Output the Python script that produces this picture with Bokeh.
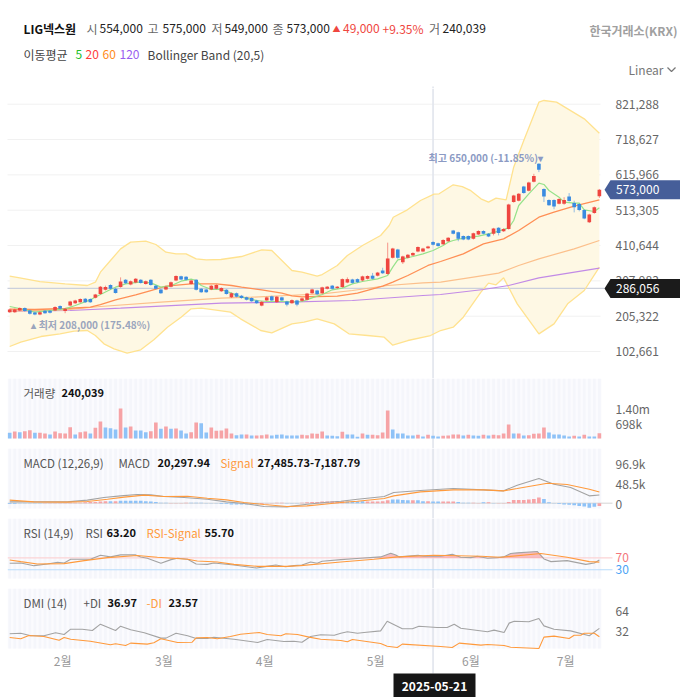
from bokeh.plotting import figure
from bokeh.layouts import column
from bokeh.core.properties import value
from bokeh.models import Range1d, FixedTicker, Label, LinearAxis, NumeralTickFormatter, ColumnDataSource
from bokeh.embed import file_html
from bokeh.resources import INLINE

# ---------- data (thousand won unless noted) ----------
OPEN = [217,217,222,229,222,216,210,221,221,222,235,220,236,243,246,256,255,259,270,282,296,285,290,311,297,303,311,299,311,294,
        283,283,291,309,321,320,299,311,285,283,283,285,278,282,260,272,265,260,258,251,236,251,263,246,260,248,243,251,250,253,
        272,280,272,285,294,287,290,303,312,313,309,314,323,323,338,328,375,399,362,375,382,393,393,403,421,417,414,423,454,449,
        438,438,430,443,453,445,445,462,452,459,537,541,582,570,596,648,575,543,543,532,532,553,534,531,514,478,505,554]
CLOSE = [225,225,229,220,212,210,217,214,215,232,227,227,248,251,255,246,246,268,291,290,285,273,306,301,307,314,302,307,296,285,
         272,291,304,322,312,311,309,282,275,275,294,296,287,270,272,262,258,253,249,243,247,260,251,262,251,239,252,239,257,271,
         283,269,289,291,285,291,313,313,302,304,321,322,314,332,330,373,402,375,379,384,389,406,402,408,413,409,427,433,445,430,
         428,428,446,453,445,437,460,447,459,530,556,561,563,594,613,631,553,528,524,546,543,540,522,514,489,501,522,573]
HIGH = [227,227,231,231,224,218,219,223,223,234,237,229,250,253,257,258,257,270,293,294,298,287,318,313,309,316,313,309,313,296,
        285,293,306,324,323,322,311,313,287,285,296,298,289,284,274,274,267,262,260,253,249,262,265,264,262,250,254,253,259,273,
        285,282,291,293,296,293,315,318,314,315,323,324,331,334,346,419,404,401,381,386,391,408,404,410,423,419,429,435,456,451,
        440,440,448,455,455,447,462,464,461,532,558,563,584,596,619,650,577,545,545,548,551,563,541,533,516,503,524,575]
LOW = [215,215,220,218,210,208,208,212,213,220,225,214,234,241,244,244,244,257,268,280,283,271,288,299,295,301,300,297,294,283,
       270,281,289,307,310,309,297,280,273,273,281,283,276,268,258,260,256,251,247,241,234,249,249,244,249,234,241,234,248,251,
       270,267,270,283,283,285,288,301,300,302,307,312,312,321,328,326,373,372,357,373,380,391,391,401,411,407,412,421,443,423,
       426,426,428,441,443,435,440,440,450,457,535,539,561,568,594,624,537,526,516,530,529,538,507,510,487,476,503,549]

VOLUME = [264,326,295,341,388,264,264,233,186,326,248,233,527,186,295,326,233,496,791,512,481,419,1395,512,558,372,372,295,341,744,
          450,558,450,465,372,233,295,744,713,279,512,357,372,465,233,155,186,186,140,140,155,186,140,171,186,140,140,140,171,155,
          233,217,326,140,124,109,310,186,186,78,233,171,171,155,279,1302,419,233,233,140,140,171,93,171,124,93,124,140,186,186,
          140,171,140,124,171,140,171,155,233,651,233,233,140,155,217,233,512,279,186,186,140,93,124,93,171,93,93,240]
VOL_DIR = list("brbrrbrrbr" "rrrbrrbrrb" "bbrbrbbbrr" "brbrbbrrbb" "rrrrrbbrbr" "rrbbbbbbrr"
               "rrrbbbrbbb" "rbrrrrbbbb" "brbrbbrrrr" "brbbrbrrrr" "brbrrrrbbb" "bbrbrbbr")

MA5_X = [0,2,5,8,11,13,16,18,20,21,23,26,28,30,32,34,36,37,38,40,42,44,46,49,51,54,56,58,60,62,64,66,68,70,73,75,76,77,78,80,82,84,86,87,88,90,93,95,97,99,100,101,103,105,106,107,109,110,112,113,114,116,117]
MA5 = [233.4,227.6,217,221.8,226.6,236.3,252.8,268.3,282.8,289.6,299.3,305.1,302.2,289.6,293.5,307,312.9,309,294.5,282.8,282.8,272.2,260.5,250.9,248,248,247,248,258.6,268.3,281.9,286.7,299.3,306,313.8,323.5,347.7,369,372,378.7,386.5,396.2,410.7,420.4,425.2,432,437.8,444.6,452.3,462,483.3,526.9,560.8,591.8,588,570.5,551.1,536.6,533.7,533.7,514.3,509.5,520.1]
MA20_X = [0,5,11,16,18,21,25,28,31,36,41,44,46,50,54,56,58,61,65,69,74,76,79,83,85.5,90,94,98,101,105,108,112,117]
MA20 = [225.7,224.7,227.6,231.5,239.2,252.8,267.3,279.9,292.5,299.3,299.3,294.5,289.6,281.9,272.2,264.4,261.5,262.5,263.4,272.2,292.5,304.1,323.5,352.6,364.2,386.5,415.5,430,454.3,493,507.5,525,543.4]
MA60_X = [0,11,18,30,42,48,55,62,68,75,82,85.5,92,97,101,105,112,117]
MA60 = [219.9,223.7,233.4,246,257.6,260.5,265.4,270.2,279.9,294.5,302.2,304,318.7,330.3,352.6,371.9,401,425.2]
MA120_X = [0,12,22,42,55,68,82,85.5,94,99,105,117]
MA120 = [219.9,221.8,228.6,243.1,246,250.9,265.4,268.3,282.8,294.4,316.7,344.8]
BB_UP_X = [0,2,6,11,15.4,17,18,20,22,24,27,29,31,33,35,37,39,41.9,46,50,52,56,58,61,62,65,67,70,73.6,75.3,76.1,78.9,81.5,84.2,85.2,88,89.8,91.5,93.5,95,96.5,98.5,100,102,105,106,108.5,114,117]
BB_UP = [321.6,316.7,306,299.3,294.5,304.1,333.2,367.1,401,420.4,423.3,413.6,391.3,386.5,386.5,372,369,370,378.7,398.1,396.2,338,333.2,321.6,326.4,352.6,381.6,410.7,439.8,468.8,492.9,514.4,541.5,559.8,560.9,587.1,582,570,546.3,536.6,548.2,543.4,638.3,715.8,827.2,832.1,827.2,778.8,737.1]
BB_LO_X = [0,2.2,6.2,10,12.8,15.4,17,18.7,20.7,23.3,26,28.6,31.3,34,36,38,40.6,43.8,45.8,49.8,52,56,58.4,61,64.4,67.3,71,74.3,76,79,83.5,85.5,88,90,93.5,95,96.5,98,100.7,105,108,110.7,114,117]
BB_LO = [117.2,129.8,146.2,154,161.7,163.7,149.1,125,110.4,97.8,107.5,136.6,173.4,202.4,226.6,228.6,223.7,217,197.6,163.7,156.9,183,187.9,197.6,183,154,149.1,144.3,121,134.6,149.1,163.6,173.3,202.4,275,301.2,296.4,316.7,241.1,154,183,241.1,279.9,347.7]

MACD_X = [0,11.4,15.4,18.7,22,25.3,28,30.6,34.6,39.2,43,46.5,50.5,55,59,62.4,65.7,69,74.3,76.2,81.5,88,94,98,100.7,105,108,111.3,115,117]
MACD = [3.3,3.3,7.4,13.9,18,21.3,20.5,16.4,13.9,9.8,3.3,-0.8,-8.2,-9,-2.5,1.6,4.9,9.8,16.4,26.2,31.2,36,32.8,30.3,44.3,60.7,46.7,38.5,18,20.3]
SIGNAL_X = [0,4.8,11.4,15.4,19.4,22.7,26.7,30.6,35.3,39.2,43,46.5,50.5,55,59,62.4,65.7,69,74.3,76.2,81.5,88,94,98,100.7,106.7,110.6,115,117]
SIGNAL = [7.4,3.3,2.5,4.1,9.8,14.8,19.7,16.4,17.2,12.3,8.2,1.6,-3.3,-8.2,-6.6,-2.5,1.6,4.9,11.5,18,27.9,32.8,32.8,30.3,36,49.2,45.9,34.4,27.5]
HIST = [-2,-2,-1,-1,-1,-1,-1,0.5,0.5,0.5,0.5,0.5,1,1,1,2,3,3,4,5,5,5,6,6,6,6,6,5,4,3,1,1,-1,-1,-1,1,1,1,1,-1,
        -1,-1,-2,-2,-3,-3,-3,-3,-3,-3,-2,-1,-1,1,1,-1,-1,-1,1,2,3,3,4,4,5,5,5,4,4,4,5,4,4,4,5,7,9,9,8,7,
        7,7,5,5,4,4,4,4,4,3,1,1,1,-1,2,2,0.5,0.5,0.5,3,8,8,8,9,10,14,10,2,-1,-2,-3,-4,-5,-7,-8,-11,-9,-7.19]
HIST_DIR = list("bbbbbbbrrr" "rrrrrrrrrr" "brbbbbbbbb" "bbrrrrbbbb" "bbbbbbbbbb" "rrrrrbbbrr"
                "rrrrrrrbbb" "brrrrrbbbb" "rbbrbbrrrb" "bbrrbrbrrr" "rrrrrrbbbb" "bbbbbbbr")

RSI_X = [0,2.2,4.8,7.5,9.5,10.8,12.1,16,18,20,22,25,26,27.3,30,32,33.3,35.3,37,39.2,40.5,44.5,49,51,52.8,54.7,56.4,58,59.7,61,62,65.7,69.6,73.6,75.6,76.6,77.3,81,82.2,85.5,87.8,89.5,91.5,92.8,94.8,96.8,98,99.4,100.7,104.7,106,107.4,110.6,114.3,116,117]
RSI = [51.7,52.8,43.7,49.4,55.1,52.8,65.4,65.4,79.1,73.4,80.2,80.2,73.4,68.8,51.7,64.2,68.8,65.4,49.4,48.2,52.8,46,35.7,41.4,46,40.2,43.7,46,56.2,51.7,58.5,64.2,68.8,73.4,86,80.2,73.4,79.1,75.7,75.7,82.5,72.2,71.1,75.7,68.8,71.1,73.4,84.8,87.1,91.7,66.5,57.4,60.8,48.2,52.8,63.2]
RSI_SIG_X = [0,2.2,5.5,10.8,14.8,19.4,25.3,29.3,35.3,37.2,41.2,44.5,49.2,55,57.7,65.7,72.3,77,84.2,93.5,97.4,105.4,110.6,115,117]
RSI_SIG = [63,57.4,49.4,50.5,60.8,71.1,78,72.2,65.4,59.6,56.2,48.2,41.4,41.4,43.7,56.2,65.4,73.4,79.1,75.7,72.2,84.8,72.2,57.4,55.7]
RSI_OVER_X = [70,73.6,75.6,76.6,77.3,81,82.2,85.5,87.8,89.5,91.5,92.8,94.8,96.8,98,99.4,100.7,104.7,106]
RSI_OVER = [70,73.4,86,80.2,73.4,79.1,75.7,75.7,82.5,72.2,71.1,75.7,70,71.1,73.4,84.8,87.1,91.7,70]

PDI_X = [0,2.2,4.2,6.8,9.1,10.8,12.1,14.4,16.4,18,21,22,24,26.7,30,31,33,35.3,37,39.2,40.5,44.5,49.2,51.1,54.4,56.4,58,59.7,61.7,64.4,65.7,67,69,70.3,73.6,74.9,77.9,79.9,81.2,84.8,86.8,88.2,89.5,94.8,96.1,98.1,99.1,100.1,103,105,106,108,111.3,115,117]
PDI = [28.3,29.3,25.1,25.1,29.9,27.2,35.7,35.7,33.6,43.7,33.6,40.5,34.7,29.9,21.4,21.4,29.3,25.1,20.8,20.8,22.9,19.7,14.4,19.2,16,16.5,14.9,24,26.7,26.1,29.3,31.5,29.3,30.4,33,48.5,36.3,36.3,40.5,38.4,38.4,43.7,37.3,31.5,34.2,30.4,45.4,48.5,47.5,52.8,41,35.7,33,25.1,36.97]
MDI_X = [0,2.2,3.8,6.8,9.8,10.8,12.1,16,20,21,23,24,27.3,28.6,30,33.3,36.2,37,39.2,41.2,43.8,45.8,49.5,51.1,53.8,54.8,57.1,59.4,61.7,65.7,67,68,73.6,74.9,76.9,77.9,85.5,87.8,89.2,93.5,94.8,98.1,99.4,105,106,108,111,112,113.3,114,116,117]
MDI = [22.4,20.3,25.6,24,18.1,22.4,19.7,16.5,10.7,12.3,9.6,13.4,11.8,13.9,20.3,14.4,14.9,21.9,22.4,20.3,24,27.7,30.4,27.2,25.1,28.3,27.2,23,19.7,17.6,15.5,19.2,12.8,8.5,6.4,11.8,8,6.4,13.4,10.2,11.2,9.6,6.9,4.8,23,24.6,20.8,26.1,26.1,29.3,29.3,23.57]

PRICE_TICKS = [102661,205322,307983,410644,513305,615966,718627,821288]
VOL_TICKS = {698: "698k", 1400: "1.40m"}
MACD_TICKS = {0: "0", 48.5: "48.5k", 96.9: "96.9k"}
DMI_TICKS = {32: "32", 64: "64"}
MONTH_POS = [10.5, 30.6, 50.6, 72.6, 91.5, 110.3]
MONTH_LABELS = ["2월", "3월", "4월", "5월", "6월", "7월"]
CROSS_INDEX = 84
CROSS_DATE = "2025-05-21"
CROSS_PRICE = 286056
LOW_NOTE = "▴ 최저 208,000 (175.48%)"
HIGH_NOTE = "최고 650,000 (-11.85%)▾"

# ---------- styling ----------
FONT = "Noto Sans CJK KR"
RED, BLUE = "#ef4640", "#3a8be0"
PALE_RED, PALE_BLUE = "#f6a3a6", "#8ec2f7"
GREY_LINE, ORANGE = "#a3a3a3", "#ff9a3c"
CROSS = "#e1e5ed"
W = 680


def ix(px):
    """candle index that sits under page pixel px"""
    return (px - 9.2) / 5.04


XR = Range1d(ix(0), ix(W))
IDX = list(range(len(CLOSE)))


class Pane:
    def __init__(self, page_top, height, y_top, per_px, panel_px, bg=True):
        self.top, self.per_px = page_top, per_px
        self.y_top = y_top
        self.panel_bottom = y_top - panel_px * per_px
        p = figure(width=W, height=height, x_range=XR, y_range=Range1d(y_top - height * per_px, y_top),
                   toolbar_location=None, output_backend="svg", x_axis_location=None, y_axis_location="right",
                   min_border=0, outline_line_color=None)
        p.grid.visible = False
        ax = p.yaxis[0]
        ax.fixed_location = ix(601)
        ax.axis_line_color = None
        ax.major_tick_line_color = None
        ax.minor_tick_line_color = None
        ax.major_tick_out = 0
        ax.major_tick_in = 0
        ax.major_label_standoff = 14
        ax.major_label_text_font = FONT
        ax.major_label_text_font_size = "12px"
        ax.major_label_text_color = "#666666"
        if bg:
            p.quad(left=ix(7.3), right=ix(601), top=y_top, bottom=self.panel_bottom, fill_color="#fbfbfe", line_color=None)
            p.vbar(x=IDX, top=y_top, bottom=self.panel_bottom, width=0.55, color="#f5f6fb", line_color=None)
        self.p = p

    def y(self, page_y):
        return self.y_top - (page_y - self.top) * self.per_px

    def cross(self, page_top, page_bot):
        self.p.segment(x0=CROSS_INDEX, x1=CROSS_INDEX, y0=self.y(page_top), y1=self.y(page_bot),
                       line_color=CROSS, line_width=1.6)

    def rule(self, val, color, width=1.0):
        self.p.segment(x0=ix(7.3), x1=ix(612), y0=val, y1=val, line_color=color, line_width=width)

    def note(self, x, page_y, text, color="#555555", bold=False, size=None, align="left"):
        self.p.add_layout(Label(x=x, y=page_y - self.top, x_units="canvas", y_units="canvas", text=text,
                                text_color=color, text_font=FONT, text_font_size=size or ("11px" if bold else "11.5px"),
                                text_baseline="middle", text_align=align,
                                text_font_style="bold" if bold else "normal"))


# ---------- header ----------
H = Pane(0, 88, 88, 1, 0, bg=False)
head = H.p
head.yaxis.visible = False
DK = "#222222"
G = "#666666"
H.note(23, 27.5, "LIG넥스원", "#111111", True, "12px")
for x, t, c in [(86, "시", G), (99, "554,000", DK), (147, "고", G), (162, "575,000", DK),
                (211, "저", G), (224, "549,000", DK), (272, "종", G), (286, "573,000", DK),
                (332, "▲", RED), (342.5, "49,000", RED), (382, "+9.35%", RED), (428.5, "거", G), (442, "240,039", DK)]:
    H.note(x, 27.5, t, c, size="8px" if t == "▲" else "12px")
H.note(677, 29.5, "한국거래소(KRX)", "#a0a0a0", True, "12px", align="right")
H.note(23, 54, "이동평균", "#444444", size="12px")
for x, t, c in [(75, "5", "#22c02a"), (85, "20", "#ff3b3b"), (102, "60", "#ff8c1a"), (119, "120", "#9a5cf0")]:
    H.note(x, 54, t, c, size="12px")
H.note(147, 54, "Bollinger Band (20,5)", "#444444", size="12px")
H.note(628, 68.5, "Linear", "#777777", size="12px")
head.line(x=[ix(667), ix(671), ix(675)], y=[H.y(67), H.y(71), H.y(67)], line_color="#777777", line_width=1.2)
H.cross(86, 88)

# ---------- main chart ----------
PX = 2906  # won per pixel on the price scale
M = Pane(88, 290, 866939, PX, 287, bg=False)
main = M.p
main.yaxis[0].ticker = FixedTicker(ticks=PRICE_TICKS)
main.yaxis[0].formatter = NumeralTickFormatter(format="0,0")
k = lambda a: [v * 1000 for v in a]
main.segment(x0=ix(7), x1=ix(600), y0=PRICE_TICKS, y1=PRICE_TICKS, line_color="#f1f1f1", line_width=1)
main.patch(x=BB_UP_X + BB_LO_X[::-1], y=k(BB_UP) + k(BB_LO)[::-1], fill_color="#fef8e4", line_color=None)
M.cross(88, 378)
main.segment(x0=ix(7), x1=ix(604), y0=CROSS_PRICE, y1=CROSS_PRICE, line_color="#cbd0dc", line_width=1.1)
main.line(BB_UP_X, k(BB_UP), line_color="#ffe28f", line_width=1.3)
main.line(BB_LO_X, k(BB_LO), line_color="#ffe28f", line_width=1.3)
main.line(MA120_X, k(MA120), line_color="#c28ae6", line_width=1.2)
main.line(MA60_X, k(MA60), line_color="#fcc08c", line_width=1.2)
main.line(MA20_X, k(MA20), line_color="#ff8f55", line_width=1.3)
main.line(MA5_X, k(MA5), line_color="#96e28a", line_width=1.2)
colors = [RED if c >= o else BLUE for o, c in zip(OPEN, CLOSE)]
src = ColumnDataSource(dict(x=IDX, o=k(OPEN), c=k(CLOSE), h=k(HIGH), l=k(LOW), col=colors))
main.segment(x0="x", x1="x", y0="l", y1="h", source=src, line_color="col", line_width=1, line_alpha=0.55)
main.vbar(x="x", top="o", bottom="c", width=0.72, source=src, fill_color="col", line_color=None)
main.text(x=[105.8], y=[650000], text=[HIGH_NOTE], text_font=value(FONT), text_font_size=value("10px"),
          text_font_style="bold", text_color="#8b9ac4", text_align="right", text_baseline="middle", y_offset=-6)
main.text(x=[4.3], y=[208000], text=[LOW_NOTE], text_font=value(FONT), text_font_size=value("10px"),
          text_font_style="bold", text_color="#9aa5bd", text_align="left", text_baseline="middle", y_offset=9)
for val, col, txt in [(CLOSE[-1] * 1000, "#465e99", "573,000"), (CROSS_PRICE, "#1b1b1b", "286,056")]:
    main.patch(x=[ix(604), ix(610), ix(W), ix(W), ix(610)],
               y=[val, val + 9.5 * PX, val + 9.5 * PX, val - 9.5 * PX, val - 9.5 * PX],
               fill_color=col, line_color=None, level="overlay")
    main.text(x=[ix(615.5)], y=[val], text=[txt], text_color="white", text_font=value(FONT),
              text_font_size=value("12px"), text_baseline="middle", level="overlay")

# ---------- volume ----------
V = Pane(378, 70, 2792, 46.53, 60)
vol = V.p
V.cross(378, 448)
vol.yaxis[0].ticker = FixedTicker(ticks=list(VOL_TICKS))
vol.yaxis[0].major_label_overrides = VOL_TICKS
vol.vbar(x=IDX, top=VOLUME, bottom=0, width=0.72,
         color=[PALE_RED if d == "r" else PALE_BLUE for d in VOL_DIR], line_color=None)
V.note(23, 392, "거래량")
V.note(61, 392, "240,039", "#111111", True)

# ---------- MACD ----------
A = Pane(448, 70, 134.5, 2.46, 60)
mac = A.p
A.cross(448, 518)
mac.yaxis[0].ticker = FixedTicker(ticks=list(MACD_TICKS))
mac.yaxis[0].major_label_overrides = MACD_TICKS
A.rule(0, "#d4d4d4")
mac.vbar(x=IDX, top=HIST, bottom=0, width=0.72,
         color=[PALE_RED if d == "r" else PALE_BLUE for d in HIST_DIR], line_color=None)
mac.line(MACD_X, MACD, line_color=GREY_LINE, line_width=1.1)
mac.line(SIGNAL_X, SIGNAL, line_color=ORANGE, line_width=1.1)
A.note(23, 462, "MACD (12,26,9)")
A.note(118, 462, "MACD")
A.note(157, 462, "20,297.94", "#111111", True)
A.note(220, 462, "Signal", ORANGE)
A.note(257, 462, "27,485.73-7,187.79", "#111111", True)

# ---------- RSI ----------
R = Pane(518, 70, 203.7, 3.392, 60)
rsi = R.p
R.cross(518, 588)
rsi.yaxis[0].ticker = FixedTicker(ticks=[70])
rsi.yaxis[0].major_label_text_color = "#f4777c"
R.rule(70, "#fbd3d5", 1.1)
R.rule(30, "#b8dcfb", 1.1)
rsi.varea(x=RSI_OVER_X, y1=[70] * len(RSI_OVER_X), y2=RSI_OVER, fill_color="#f7a9ad", fill_alpha=0.75)
rsi.line(RSI_X, RSI, line_color=GREY_LINE, line_width=1.1)
rsi.line(RSI_SIG_X, RSI_SIG, line_color=ORANGE, line_width=1.1)
rsi.text(x=[ix(615)], y=[30], text=["30"], text_color="#4aa3f5", text_font=value(FONT),
         text_font_size=value("12px"), text_baseline="middle")
R.note(23, 532, "RSI (14,9)")
R.note(85, 532, "RSI")
R.note(106, 532, "63.20", "#111111", True)
R.note(146, 532, "RSI-Signal", ORANGE)
R.note(204, 532, "55.70", "#111111", True)

# ---------- DMI ----------
D = Pane(588, 109, 100.8, 1.6, 60)
dmi = D.p
D.cross(588, 673)
dmi.yaxis[0].ticker = FixedTicker(ticks=list(DMI_TICKS))
dmi.yaxis[0].major_label_overrides = DMI_TICKS
dmi.line(PDI_X, PDI, line_color=GREY_LINE, line_width=1.1)
dmi.line(MDI_X, MDI, line_color=ORANGE, line_width=1.1)
xax = LinearAxis(ticker=FixedTicker(ticks=MONTH_POS), fixed_location=D.y(648),
                 major_label_overrides=dict(zip(MONTH_POS, MONTH_LABELS)),
                 axis_line_color=None, major_tick_line_color=None, minor_tick_line_color=None,
                 major_tick_out=0, major_tick_in=0, major_label_standoff=3,
                 major_label_text_font=FONT, major_label_text_font_size="12px", major_label_text_color="#999999")
dmi.add_layout(xax, "below")
D.note(23, 602, "DMI (14)")
D.note(83, 602, "+DI")
D.note(107, 602, "36.97", "#111111", True)
D.note(146, 602, "-DI", ORANGE)
D.note(168, 602, "23.57", "#111111", True)
dmi.quad(left=ix(393), right=ix(475), top=D.y(673), bottom=D.y(697), fill_color="#161616", line_color=None)
D.note(434, 686, CROSS_DATE, "white", True, "12px", align="center")

page = column(head, main, vol, mac, rsi, dmi, spacing=0)
open("out.html", "w").write(file_html(page, INLINE))
